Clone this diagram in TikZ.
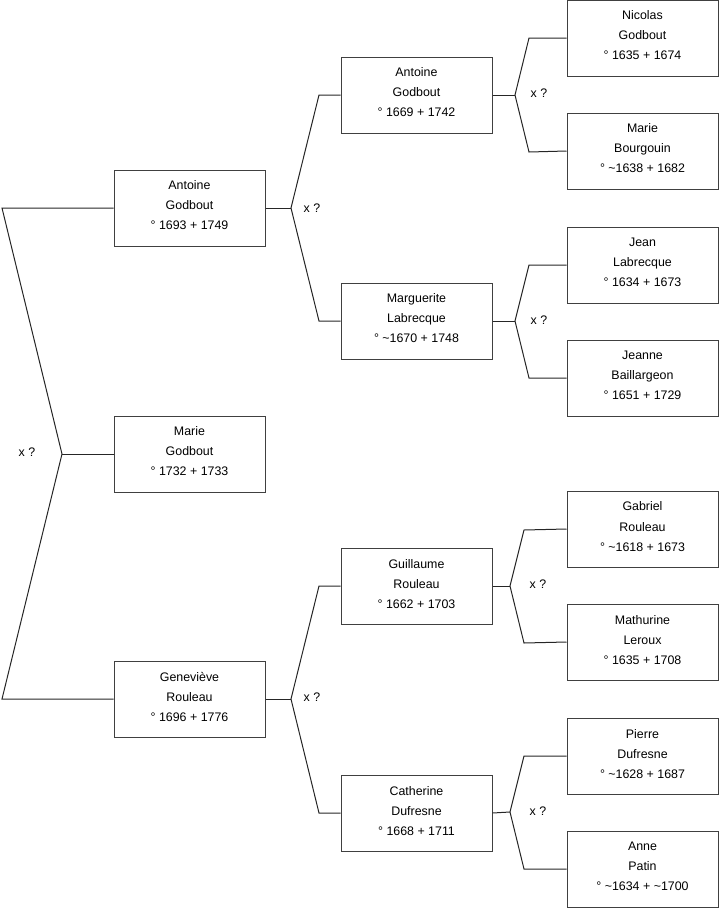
\documentclass[tikz,border=0pt]{standalone}
\usepackage{fontspec}
\setmainfont{Liberation Sans}
\begin{document}
\begin{tikzpicture}[x=1pt,y=-1pt,
  person/.style={draw=black!75, line width=1pt, fill=white, minimum width=151pt, minimum height=76pt,
    inner sep=0pt, align=center, text depth=5pt, font=\fontsize{12.4}{20}\selectfont},
  link/.style={draw=black!85, line width=1pt},
  xlabel/.style={font=\fontsize{12.4}{14}\selectfont, inner sep=0pt}]
\useasboundingbox (0,0) rectangle (719,908);
% column 1
\node[person] (a1) at (189.5,208) {Antoine\\Godbout\\° 1693 + 1749};
\node[person] (m1) at (189.5,454) {Marie\\Godbout\\° 1732 + 1733};
\node[person] (g1) at (189.5,699) {Geneviève\\Rouleau\\° 1696 + 1776};
% column 2
\node[person] (a2) at (416.5,95) {Antoine\\Godbout\\° 1669 + 1742};
\node[person] (l2) at (416.5,321) {Marguerite\\Labrecque\\° \textasciitilde1670 + 1748};
\node[person] (r2) at (416.5,586) {Guillaume\\Rouleau\\° 1662 + 1703};
\node[person] (d2) at (416.5,813) {Catherine\\Dufresne\\° 1668 + 1711};
% column 3
\node[person] (n3) at (642.5,38) {Nicolas\\Godbout\\° 1635 + 1674};
\node[person] (b3) at (642.5,151) {Marie\\Bourgouin\\° \textasciitilde1638 + 1682};
\node[person] (j3) at (642.5,265) {Jean\\Labrecque\\° 1634 + 1673};
\node[person] (e3) at (642.5,378) {Jeanne\\Baillargeon\\° 1651 + 1729};
\node[person] (gr3) at (642.5,529) {Gabriel\\Rouleau\\° \textasciitilde1618 + 1673};
\node[person] (ml3) at (642.5,642) {Mathurine\\Leroux\\° 1635 + 1708};
\node[person] (p3) at (642.5,756) {Pierre\\Dufresne\\° \textasciitilde1628 + 1687};
\node[person] (ap3) at (642.5,869) {Anne\\Patin\\° \textasciitilde1634 + \textasciitilde1700};
% root connector
\coordinate (r0) at (62,454);
\coordinate (rt) at (2,208);
\coordinate (rb) at (2,699);
\draw[link] (a1.west) -- (rt) -- (r0) -- (rb) -- (g1.west);
\draw[link] (r0) -- (m1.west);
\node[xlabel] (x0) at (27,452) {x ?};
% column 1 -> 2
\coordinate (ja) at (291,208);
\draw[link] (a1.east) -- (ja);
\draw[link] (a2.west) -- (319,95) coordinate (jat) -- (ja) -- (319,321) coordinate (jab) -- (l2.west);
\node[xlabel] (x1) at (312,208) {x ?};
\coordinate (jg) at (291,699);
\draw[link] (g1.east) -- (jg);
\draw[link] (r2.west) -- (319,586) coordinate (jgt) -- (jg) -- (319,813) coordinate (jgb) -- (d2.west);
\node[xlabel] (x2) at (312,697) {x ?};
% column 2 -> 3
\coordinate (k1) at (515,95);
\draw[link] (a2.east) -- (k1);
\draw[link] (n3.west) -- (529,38) coordinate (k1t) -- (k1) -- (529,152) coordinate (k1b) -- (b3.west);
\node[xlabel] (x3) at (539,93) {x ?};
\coordinate (k2) at (515,321);
\draw[link] (l2.east) -- (k2);
\draw[link] (j3.west) -- (529,265) coordinate (k2t) -- (k2) -- (529,378) coordinate (k2b) -- (e3.west);
\node[xlabel] (x4) at (539,320) {x ?};
\coordinate (k3) at (510,586);
\draw[link] (r2.east) -- (k3);
\draw[link] (gr3.west) -- (524,530) coordinate (k3t) -- (k3) -- (524,643) coordinate (k3b) -- (ml3.west);
\node[xlabel] (x5) at (538,584) {x ?};
\coordinate (k4) at (510,812);
\draw[link] (d2.east) -- (k4);
\draw[link] (p3.west) -- (524,756) coordinate (k4t) -- (k4) -- (524,869) coordinate (k4b) -- (ap3.west);
\node[xlabel] (x6) at (538,811) {x ?};
\end{tikzpicture}
\end{document}
